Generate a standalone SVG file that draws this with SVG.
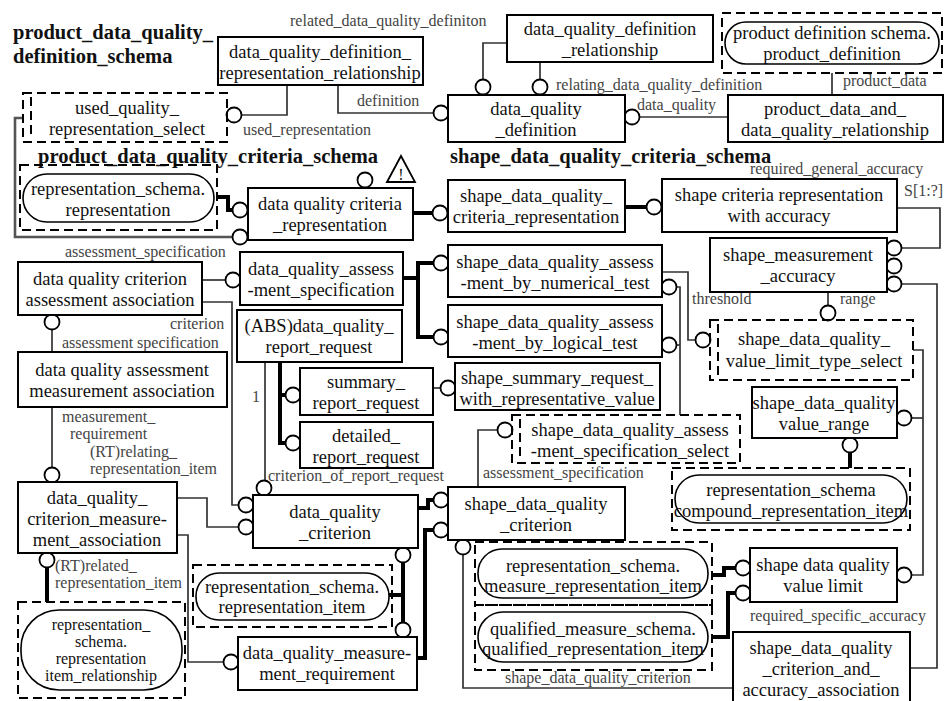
<svg xmlns="http://www.w3.org/2000/svg" width="949" height="701" viewBox="0 0 949 701">
<style>
.bg{fill:#fff}
.e{fill:#fff;stroke:#000;stroke-width:2}
.d{fill:none;stroke:#000;stroke-width:2;stroke-dasharray:9 5}
.r{fill:#fff;stroke:#000;stroke-width:1.6}
.t{font-family:"Liberation Serif","Times New Roman",serif;font-size:18.5px;fill:#111;text-anchor:middle}
.ts{font-family:"Liberation Serif","Times New Roman",serif;font-size:16px;fill:#111;text-anchor:middle}
.l{font-family:"Liberation Serif","Times New Roman",serif;font-size:16px;fill:#444}
.h{font-family:"Liberation Serif","Times New Roman",serif;font-size:20.5px;font-weight:bold;fill:#111}
.c{fill:none;stroke:#333;stroke-width:1.7}
.k{fill:none;stroke:#000;stroke-width:4}
.o{fill:#fff;stroke:#000;stroke-width:1.8}
</style>
<rect class="bg" width="949" height="701"/>
<text class="h" x="13" y="39">product_data_quality_</text>
<text class="h" x="13" y="63">definition_schema</text>
<text class="h" x="38" y="163">product_data_quality_criteria_schema</text>
<text class="h" x="450" y="163">shape_data_quality_criteria_schema</text>

<g id="connectors">
<polyline class="c" points="507,43 483,43 483,80"/>
<circle class="o" cx="483" cy="87" r="7.5"/>
<polyline class="c" points="540,62 540,80"/>
<circle class="o" cx="540" cy="87" r="7.5"/>
<polyline class="c" points="287,85 287,115 242,115"/>
<circle class="o" cx="234" cy="115" r="7.5"/>
<polyline class="c" points="338,85 338,113 433,113"/>
<circle class="o" cx="441" cy="113" r="7.5"/>
<polyline class="c" points="728,117 640,117"/>
<circle class="o" cx="632" cy="117" r="7.5"/>
<polyline class="c" points="832,95 832,73"/>
<polyline class="k" points="217,197 228,197 228,210 233,210"/>
<circle class="o" cx="240" cy="210" r="7.5"/>
<polyline class="c" points="23,118 15,118 15,237 233,237" style="stroke-width:2.6;stroke:#555"/>
<circle class="o" cx="240" cy="237" r="7.5"/>
<circle class="o" cx="365" cy="180" r="7.5"/>
<polygon points="387,182 401,156 415,182" fill="#fff" stroke="#000" stroke-width="1.8"/>
<text class="ts" x="401" y="180">!</text>
<polyline class="k" points="413,213 433,213"/>
<circle class="o" cx="440" cy="213" r="7.5"/>
<polyline class="k" points="625,207 646,207"/>
<circle class="o" cx="654" cy="207" r="7.5"/>
<polyline class="c" points="897,208 940,208 940,248 902,248"/>
<circle class="o" cx="894" cy="248" r="7.5"/>
<circle class="o" cx="894" cy="266" r="7.5"/>
<polyline class="c" points="902,284 937,284 937,668 910,668"/>
<circle class="o" cx="894" cy="284" r="7.5"/>
<polyline class="c" points="828,292 828,306"/>
<circle class="o" cx="828" cy="313" r="7.5"/>
<polyline class="c" points="662,272 688,272 688,340 696,340"/>
<circle class="o" cx="703" cy="340" r="7.5"/>
<polyline class="c" points="676,287 680,287 680,415"/>
<polyline class="c" points="676,345 680,345"/>
<circle class="o" cx="669" cy="287" r="7.5"/>
<circle class="o" cx="669" cy="345" r="7.5"/>
<polyline class="c" points="478,487 478,430 497,430"/>
<circle class="o" cx="505" cy="430" r="7.5"/>
<polyline class="c" points="913,350 923,350 923,575 912,575"/>
<polyline class="c" points="923,418 912,418"/>
<circle class="o" cx="904" cy="418" r="7.5"/>
<circle class="o" cx="904" cy="575" r="7.5"/>
<circle class="o" cx="850" cy="445" r="7.5"/>
<polyline class="k" points="850,452 850,468"/>
<polyline class="k" points="712,575 724,575 724,568 736,568"/>
<polyline class="k" points="712,637 728,637 728,593 736,593"/>
<circle class="o" cx="743" cy="568" r="7.5"/>
<circle class="o" cx="743" cy="593" r="7.5"/>
<polyline class="c" points="202,280 225,280"/>
<circle class="o" cx="233" cy="280" r="7.5"/>
<polyline class="c" points="202,302 232,302 232,505 239,505"/>
<circle class="o" cx="246" cy="505" r="7.5"/>
<polyline class="k" points="403,278 418,278"/>
<polyline class="k" points="433,263 418,263 418,337 433,337"/>
<circle class="o" cx="441" cy="263" r="7.5"/>
<circle class="o" cx="441" cy="337" r="7.5"/>
<polyline class="c" points="52,352 52,330"/>
<circle class="o" cx="52" cy="322" r="7.5"/>
<polyline class="c" points="52,407 52,468"/>
<circle class="o" cx="52" cy="475" r="7.5"/>
<polyline class="c" points="177,498 207,498 207,527 239,527"/>
<circle class="o" cx="246" cy="527" r="7.5"/>
<polyline class="c" points="177,535 188,535 188,662 224,662"/>
<circle class="o" cx="231" cy="662" r="7.5"/>
<circle class="o" cx="47" cy="560" r="7.5"/>
<polyline class="k" points="47,567 47,602"/>
<polyline class="c" points="265,362 265,481"/>
<circle class="o" cx="264" cy="488" r="7.5"/>
<polyline class="k" points="280,362 280,443 286,443"/>
<polyline class="k" points="280,395 286,395"/>
<circle class="o" cx="293" cy="395" r="7.5"/>
<circle class="o" cx="293" cy="443" r="7.5"/>
<polyline class="c" points="433,388 441,388"/>
<circle class="o" cx="448" cy="388" r="7.5"/>
<polyline class="k" points="418,508 428,508 428,500 434,500"/>
<circle class="o" cx="441" cy="500" r="7.5"/>
<polyline class="k" points="417,658 425,658 425,530 434,530"/>
<circle class="o" cx="441" cy="530" r="7.5"/>
<polyline class="k" points="389,595 403,595"/>
<polyline class="k" points="403,562 403,623"/>
<circle class="o" cx="403" cy="555" r="7.5"/>
<circle class="o" cx="403" cy="630" r="7.5"/>
<polyline class="c" points="463,554 463,688 733,688"/>
<circle class="o" cx="463" cy="547" r="7.5"/>
</g>

<g id="labels">
<text class="l" x="290" y="26">related_data_quality_definiton</text>
<text class="l" x="556" y="90">relating_data_quality_definition</text>
<text class="l" x="637" y="110">data_quality</text>
<text class="l" x="243" y="135">used_representation</text>
<text class="l" x="357" y="106">definition</text>
<text class="l" x="843" y="86">product_data</text>
<text class="l" x="750" y="174">required_general_accuracy</text>
<text class="l" x="904" y="196">S[1:?]</text>
<text class="l" x="692" y="304">threshold</text>
<text class="l" x="840" y="304">range</text>
<text class="l" x="483" y="478">assessment_specification</text>
<text class="l" x="750" y="621">required_specific_accuracy</text>
<text class="l" x="505" y="683">shape_data_quality_criterion</text>
<text class="l" x="65" y="257">assessment_specification</text>
<text class="l" x="170" y="329">criterion</text>
<text class="l" x="62" y="348">assessment specification</text>
<text class="l" x="62" y="422">measurement_</text>
<text class="l" x="70" y="439">requirement</text>
<text class="l" x="90" y="457">(RT)relating_</text>
<text class="l" x="90" y="474">representation_item</text>
<text class="l" x="55" y="571">(RT)related_</text>
<text class="l" x="55" y="588">representation_item</text>
<text class="l" x="252" y="402">1</text>
<text class="l" x="268" y="481">criterion_of_report_request</text>
</g>

<g id="dqdrr"><rect class="e" x="218" y="37" width="205" height="48"/><text class="t" x="320" y="58">data_quality_definition_</text><text class="t" x="320" y="79">representation_relationship</text></g>
<g id="dqdr"><rect class="e" x="507" y="15" width="206" height="47"/><text class="t" x="610" y="35">data_quality_definition</text><text class="t" x="610" y="56">_relationship</text></g>
<g id="pd"><rect class="d" x="722" y="13" width="220" height="60"/><rect class="r" x="725" y="22" width="214" height="42" rx="21"/><text class="t" x="832" y="39">product definition schema.</text><text class="t" x="832" y="60">product_definition</text></g>
<g id="dqd"><rect class="e" x="448" y="95" width="177" height="47"/><text class="t" x="536" y="115">data_quality</text><text class="t" x="536" y="136">_definition</text></g>
<g id="pdadqr"><rect class="e" x="728" y="95" width="215" height="47"/><text class="t" x="835" y="115">product_data_and_</text><text class="t" x="835" y="136">data_quality_relationship</text></g>
<g id="uqrs"><rect class="d" x="23" y="93" width="204" height="49"/><line class="d" x1="31" y1="97" x2="31" y2="138"/><text class="t" x="127" y="114">used_quality_</text><text class="t" x="127" y="135">representation_select</text></g>
<g id="rsr"><rect class="d" x="20" y="165" width="197" height="65"/><rect class="r" x="23" y="174" width="191" height="48" rx="24"/><text class="t" x="118" y="195">representation_schema.</text><text class="t" x="118" y="216">representation</text></g>
<g id="dqcr"><rect class="e" x="248" y="188" width="165" height="52"/><text class="t" x="330" y="210">data quality criteria</text><text class="t" x="330" y="231">_representation</text></g>
<g id="sdqcr"><rect class="e" x="448" y="180" width="177" height="52"/><text class="t" x="536" y="202">shape_data_quality_</text><text class="t" x="536" y="223">criteria_representation</text></g>
<g id="scrwa"><rect class="e" x="662" y="179" width="235" height="53"/><text class="t" x="779" y="201">shape criteria representation</text><text class="t" x="779" y="222">with accuracy</text></g>
<g id="sma"><rect class="e" x="710" y="238" width="177" height="54"/><text class="t" x="798" y="261">shape_measurement</text><text class="t" x="798" y="282">_accuracy</text></g>
<g id="dqcaa"><rect class="e" x="18" y="262" width="184" height="53"/><text class="t" x="110" y="285">data quality criterion</text><text class="t" x="110" y="306">assessment association</text></g>
<g id="dqas"><rect class="e" x="240" y="252" width="163" height="53"/><text class="t" x="321" y="275">data_quality_assess</text><text class="t" x="321" y="296">-ment_specification</text></g>
<g id="num"><rect class="e" x="448" y="245" width="214" height="52"/><text class="t" x="555" y="268">shape_data_quality_assess</text><text class="t" x="555" y="289">-ment_by_numerical_test</text></g>
<g id="log"><rect class="e" x="448" y="305" width="214" height="52"/><text class="t" x="555" y="328">shape_data_quality_assess</text><text class="t" x="555" y="349">-ment_by_logical_test</text></g>
<g id="abs"><rect class="e" x="237" y="310" width="165" height="52"/><text class="t" x="319" y="332">(ABS)data_quality_</text><text class="t" x="319" y="353">report_request</text></g>
<g id="sum"><rect class="e" x="300" y="368" width="133" height="47"/><text class="t" x="366" y="388">summary_</text><text class="t" x="366" y="409">report_request</text></g>
<g id="det"><rect class="e" x="300" y="422" width="133" height="46"/><text class="t" x="366" y="442">detailed_</text><text class="t" x="366" y="463">report_request</text></g>
<g id="ssrwrv"><rect class="e" x="455" y="363" width="205" height="47"/><text class="t" x="557" y="384">shape_summary_request_</text><text class="t" x="557" y="405">with_representative_value</text></g>
<g id="vlts"><rect class="d" x="710" y="320" width="203" height="60"/><line class="d" x1="718" y1="324" x2="718" y2="376"/><text class="t" x="814" y="345">shape_data_quality_</text><text class="t" x="814" y="367">value_limit_type_select</text></g>
<g id="dqama"><rect class="e" x="18" y="352" width="209" height="55"/><text class="t" x="122" y="376">data quality assessment</text><text class="t" x="122" y="397">measurement association</text></g>
<g id="sdqass"><rect class="d" x="512" y="415" width="228" height="48"/><line class="d" x1="520" y1="419" x2="520" y2="459"/><text class="t" x="630" y="436">shape_data_quality_assess</text><text class="t" x="630" y="457">-ment_specification_select</text></g>
<g id="vr"><rect class="e" x="752" y="387" width="145" height="51"/><text class="t" x="824" y="409">shape_data_quality</text><text class="t" x="824" y="430">value_range</text></g>
<g id="dqcma"><rect class="e" x="18" y="482" width="159" height="71"/><text class="t" x="97" y="504">data_quality_</text><text class="t" x="97" y="525">criterion_measure-</text><text class="t" x="97" y="546">ment_association</text></g>
<g id="dqc"><rect class="e" x="253" y="495" width="165" height="53"/><text class="t" x="335" y="518">data_quality</text><text class="t" x="335" y="539">_criterion</text></g>
<g id="sdqc"><rect class="e" x="448" y="487" width="177" height="53"/><text class="t" x="536" y="510">shape_data_quality</text><text class="t" x="536" y="531">_criterion</text></g>
<g id="cri"><rect class="d" x="672" y="468" width="238" height="62"/><rect class="r" x="675" y="475" width="232" height="48" rx="24"/><text class="t" x="791" y="496">representation_schema</text><text class="t" x="791" y="517">compound_representation_item</text></g>
<g id="ri"><rect class="d" x="193" y="565" width="199" height="62"/><rect class="r" x="196" y="573" width="193" height="47" rx="23"/><text class="t" x="292" y="593">representation_schema.</text><text class="t" x="292" y="613">representation_item</text></g>
<g id="vl"><rect class="e" x="750" y="548" width="147" height="54"/><text class="t" x="823" y="571">shape data quality</text><text class="t" x="823" y="592">value limit</text></g>
<g id="mri"><rect class="d" x="475" y="542" width="237" height="63"/><rect class="r" x="478" y="549" width="230" height="49" rx="24"/><text class="t" x="593" y="572">representation_schema.</text><text class="t" x="593" y="592">measure_representation_item</text></g>
<g id="qri"><rect class="d" x="475" y="605" width="237" height="65"/><rect class="r" x="478" y="612" width="230" height="50" rx="25"/><text class="t" x="593" y="635">qualified_measure_schema.</text><text class="t" x="593" y="655">qualified_representation_item</text></g>
<g id="sdqcaa"><rect class="e" x="733" y="632" width="177" height="80"/><text class="t" x="821" y="654">shape_data_quality</text><text class="t" x="821" y="675">_criterion_and_</text><text class="t" x="821" y="696">accuracy_association</text></g>
<g id="dqmr"><rect class="e" x="238" y="637" width="179" height="53"/><text class="t" x="327" y="659">data_quality_measure-</text><text class="t" x="327" y="680">ment_requirement</text></g>
<g id="rirel"><rect class="d" x="18" y="602" width="167" height="96"/><rect class="r" x="21" y="610" width="161" height="80" rx="38"/><text class="ts" x="101" y="630">representation_</text><text class="ts" x="101" y="647">schema.</text><text class="ts" x="101" y="664">representation</text><text class="ts" x="101" y="681">item_relationship</text></g>
</svg>
